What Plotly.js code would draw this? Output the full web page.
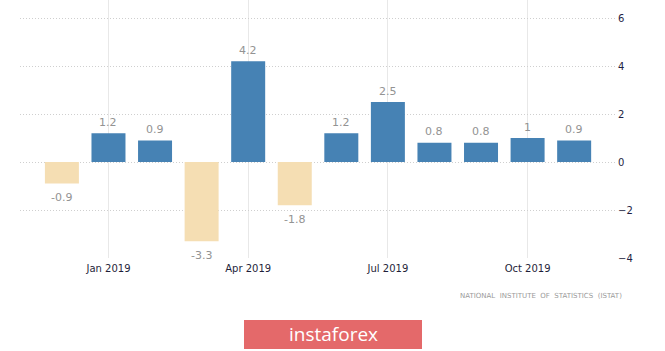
<!DOCTYPE html>
<html>
<head>
<meta charset="utf-8">
<script src="https://cdn.plot.ly/plotly-3.0.1.min.js"></script>
<style>html,body{margin:0;padding:0;background:#fff;}#chart{width:665px;height:351px;}</style>
</head>
<body>
<div id="chart"></div>
<script>
var months = ["Dec 2018","Jan 2019","Feb 2019","Mar 2019","Apr 2019","May 2019","Jun 2019","Jul 2019","Aug 2019","Sep 2019","Oct 2019","Nov 2019"];
var values = [-0.9, 1.2, 0.9, -3.3, 4.2, -1.8, 1.2, 2.5, 0.8, 0.8, 1, 0.9];
var xTickVals = ["Jan 2019","Apr 2019","Jul 2019","Oct 2019"];
var yTickVals = [-4, -2, 0, 2, 4, 6];

var colors = values.map(function(v){ return v < 0 ? "#f5deb3" : "#4682b4"; });

var trace = {
  type: "bar",
  x: months,
  y: values,
  marker: {color: colors, line: {width: 0}},
  hoverinfo: "none"
};

var valueLabels = values.map(function(v, i){
  return {
    x: months[i], y: v, xref: "x", yref: "y",
    text: String(v), showarrow: false,
    yanchor: "middle", xanchor: "center",
    yshift: v < 0 ? -14 : 11,
    font: {family: "DejaVu Sans", size: 11, color: "#939393"}
  };
});

var layout = {
  width: 665, height: 351,
  margin: {l: 20, r: 48, t: 0, b: 93},
  paper_bgcolor: "#ffffff",
  plot_bgcolor: "#ffffff",
  bargap: 0.27,
  showlegend: false,
  xaxis: {
    type: "category",
    range: [-0.9, 11.92],
    tickmode: "array",
    tickvals: xTickVals,
    ticktext: xTickVals,
    showgrid: true,
    gridcolor: "#e8e8e8",
    gridwidth: 1,
    zeroline: false,
    showline: false,
    ticks: "",
    ticklabelstandoff: 3,
    tickfont: {family: "DejaVu Sans", size: 10, color: "#1f1f3a"}
  },
  yaxis: {
    side: "right",
    range: [-4, 6.75],
    tickmode: "array",
    tickvals: yTickVals,
    showgrid: true,
    gridcolor: "#cfcfcf",
    griddash: "1px,2px",
    gridwidth: 1,
    zeroline: false,
    showline: false,
    ticks: "",
    ticklabelstandoff: 0,
    tickfont: {family: "DejaVu Sans", size: 10, color: "#1f1f44"}
  },
  shapes: [
    {type: "rect", xref: "paper", yref: "paper", x0: (244-20)/597, x1: (422-20)/597, y0: -(320-258)/258, y1: -(349-258)/258,
     fillcolor: "#e4696a", line: {width: 0}, layer: "above"}
  ],
  annotations: valueLabels.concat([
    {xref: "paper", yref: "paper", x: 1.012, y: -(296-258)/258, xanchor: "right", yanchor: "middle",
     text: "NATIONAL  INSTITUTE  OF  STATISTICS  (ISTAT)", showarrow: false,
     font: {family: "DejaVu Sans", size: 7, color: "#9a9a9a"}},
    {xref: "paper", yref: "paper", x: (333-20)/597, y: -(334-258)/258, xanchor: "center", yanchor: "middle",
     text: "instaforex", showarrow: false,
     font: {family: "Open Sans", size: 19, color: "#ffffff"}}
  ])
};

Plotly.newPlot("chart", [trace], layout, {staticPlot: true, displayModeBar: false});
</script>
</body>
</html>
